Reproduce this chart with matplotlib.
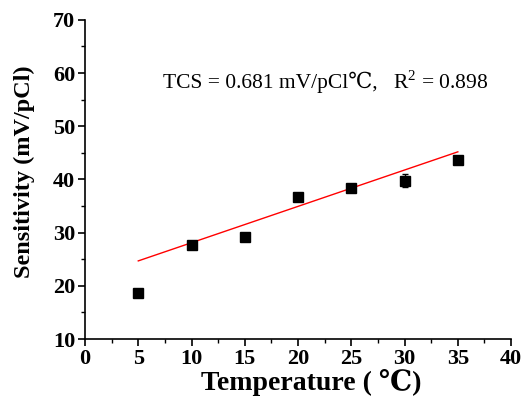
import matplotlib
matplotlib.use("Agg")
import matplotlib.pyplot as plt
from matplotlib.ticker import MultipleLocator

# measured points
temperature = [5, 10, 15, 20, 25, 30, 35]
sensitivity = [18.7, 27.7, 29.1, 36.7, 38.4, 39.8, 43.7]
sens_err = [0.3, 0.3, 0.3, 0.4, 0.3, 1.2, 0.3]

# linear fit endpoints
fit_x = [5, 35]
fit_y = [24.7, 45.2]

x_ticks = [0, 5, 10, 15, 20, 25, 30, 35, 40]
y_ticks = [10, 20, 30, 40, 50, 60, 70]

FONT = ["Liberation Serif", "DejaVu Serif"]
plt.rcParams["font.family"] = FONT
plt.rcParams["mathtext.fontset"] = "custom"
plt.rcParams["mathtext.rm"] = "Liberation Serif"

fig = plt.figure(figsize=(5.28, 3.98), dpi=100)
ax = fig.add_axes([0.161, 0.148, 0.807, 0.802])

ax.plot(fit_x, fit_y, color="red", linewidth=1.0)
ax.errorbar(temperature, sensitivity, yerr=sens_err, fmt="s", color="black",
            markersize=6.5, capsize=2, elinewidth=1.0, capthick=1.0)

# annotation split in two so the degree sign is not fed to mathtext
ax.text(7.3, 58.3, "TCS = 0.681 mV/pCl\u2103,", fontsize=15.5, va="center", ha="left")
ax.text(28.9, 58.3, "R$^2$ = 0.898", fontsize=15.5, va="center", ha="left")

ax.set_xlim(0, 40)
ax.set_ylim(10, 70)
ax.set_xticks(x_ticks)
ax.set_yticks(y_ticks)
ax.xaxis.set_minor_locator(MultipleLocator(2.5))
ax.yaxis.set_minor_locator(MultipleLocator(5))

ax.spines["top"].set_visible(False)
ax.spines["right"].set_visible(False)
ax.spines["left"].set_linewidth(1.2)
ax.spines["bottom"].set_linewidth(1.2)

ax.tick_params(which="major", direction="out", length=5, width=1.2, labelsize=16, pad=2)
ax.tick_params(which="minor", direction="out", length=3, width=1.0)
for lbl in ax.get_xticklabels() + ax.get_yticklabels():
    lbl.set_fontweight("bold")

ax.set_xlabel("Temperature ( \u2103)", fontsize=20, fontweight="bold")
ax.set_ylabel("Sensitivity (mV/pCl)", fontsize=17.5, fontweight="bold")
ax.xaxis.set_label_coords(0.53, -0.094)
ax.yaxis.set_label_coords(-0.117, 0.523)

fig.savefig("out.png", dpi=100)
